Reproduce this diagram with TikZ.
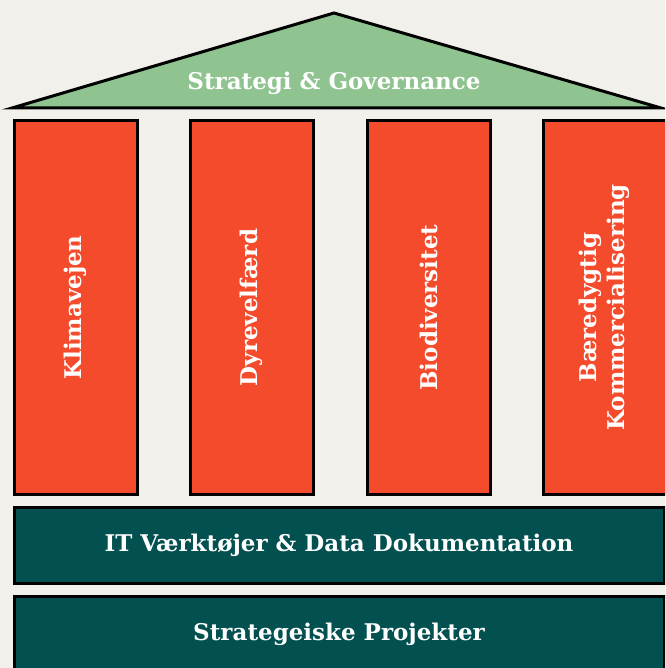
\documentclass[tikz,border=0pt]{standalone}
\usepackage{fontspec}
\setmainfont{DejaVu Serif}
\usepackage{xcolor}
\definecolor{bgcream}{HTML}{F1F0EB}
\definecolor{roofgreen}{HTML}{8FC490}
\definecolor{pillarred}{HTML}{F44B2D}
\definecolor{baseteal}{HTML}{02504F}

\begin{document}
\begin{tikzpicture}[x=1pt,y=-1pt]

\tikzset{pillar/.style = {shape=rectangle,draw,line width=3pt,fill=pillarred,text=white,
  rotate=90,minimum width=373pt,minimum height=123pt,align=center,
  font=\bfseries\fontsize{23}{28}\selectfont}}
\tikzset{base/.style = {shape=rectangle,draw,line width=3pt,fill=baseteal,text=white,
  minimum width=650pt,minimum height=76pt,font=\bfseries\fontsize{23}{28}\selectfont}}
\tikzset{label/.style = {text=white,font=\bfseries\fontsize{23}{28}\selectfont}}

\clip (0,0) rectangle (665,668);
\fill[bgcream] (0,0) rectangle (665,668);

%roof
\coordinate (eaveL) at (12,108);
\coordinate (apex) at (334,13);
\coordinate (eaveR) at (661,108);
\draw[line width=3pt,fill=roofgreen,line join=miter] (eaveL) -- (apex) -- (eaveR) -- cycle;
\node[label] (roof) at (334,83) {Strategi \& Governance};

%pillars
\node[pillar] (klima) at (75.5,307.5) {Klimavejen};
\node[pillar] (dyr) at (251.5,307.5) {Dyrevelfærd};
\node[pillar] (bio) at (428.5,307.5) {Biodiversitet};
\node[pillar] (komm) at (604.5,307.5) {Bæredygtig\\Kommercialisering};

%base
\node[base] (it) at (339,545) {IT Værktøjer \& Data Dokumentation};
\node[base] (proj) at (339,634) {Strategeiske Projekter};
\end{tikzpicture}
\end{document}
